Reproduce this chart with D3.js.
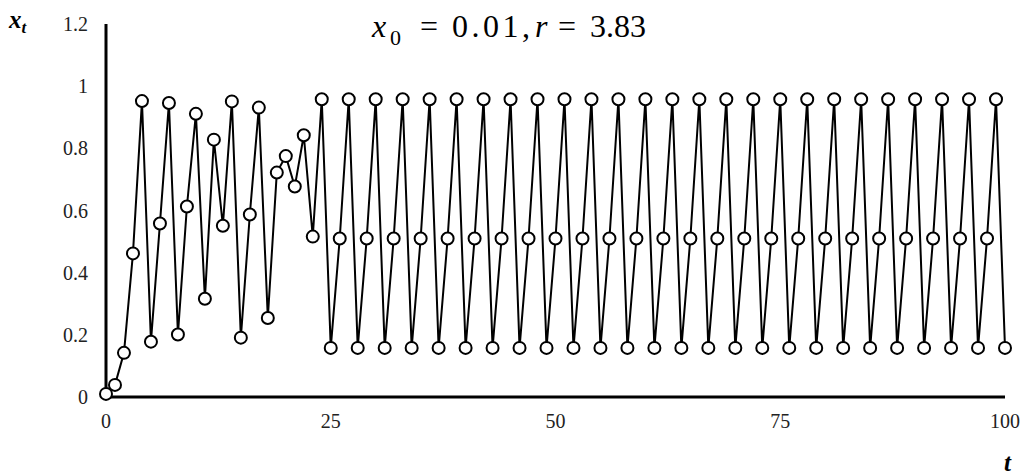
<!DOCTYPE html>
<html><head><meta charset="utf-8"><script src="https://cdn.jsdelivr.net/npm/d3@7"></script></head>
<body style="margin:0">
<svg id="chart" width="1024" height="476"></svg>
<script>
// ---- data ----
const xtValues = [
  0.010, 0.039, 0.142, 0.462, 0.952, 0.178, 0.558, 0.946, 0.201, 0.613,
  0.911, 0.316, 0.828, 0.551, 0.951, 0.191, 0.587, 0.931, 0.254, 0.722,
  0.775, 0.677, 0.842, 0.516, 0.958,
  0.158, 0.510, 0.958, 0.158, 0.510, 0.958, 0.158, 0.510, 0.958, 0.158, 0.510, 0.958, 0.158, 0.510, 0.958,
  0.158, 0.510, 0.958, 0.158, 0.510, 0.958, 0.158, 0.510, 0.958, 0.158, 0.510, 0.958, 0.158, 0.510, 0.958,
  0.158, 0.510, 0.958, 0.158, 0.510, 0.958, 0.158, 0.510, 0.958, 0.158, 0.510, 0.958, 0.158, 0.510, 0.958,
  0.158, 0.510, 0.958, 0.158, 0.510, 0.958, 0.158, 0.510, 0.958, 0.158, 0.510, 0.958, 0.158, 0.510, 0.958,
  0.158, 0.510, 0.958, 0.158, 0.510, 0.958, 0.158, 0.510, 0.958, 0.158, 0.510, 0.958, 0.158, 0.510, 0.958,
  0.158
];
const xTickValues = [0, 25, 50, 75, 100];
const yTickValues = [0, 0.2, 0.4, 0.6, 0.8, 1, 1.2];
const xDomain = [0, 100];
const yDomain = [0, 1.2];

// ---- layout ----
const s = d3.select("#chart");
const mLeft = 106, mRight = 1005, mTop = 24, mBottom = 397;

const x = d3.scaleLinear().domain(xDomain).range([mLeft, mRight]);
const y = d3.scaleLinear().domain(yDomain).range([mBottom, mTop]);

function label(xp, yp, size, txt, opts) {
  opts = opts || {};
  const t = s.append("text").attr("x", xp).attr("y", yp).attr("font-size", size)
    .attr("font-family", "Liberation Serif")
    .style("font-family", "Liberation Serif");
  if (opts.anchor) t.attr("text-anchor", opts.anchor);
  if (opts.italic) t.attr("font-style", "italic");
  if (opts.bold) t.attr("font-weight", "bold");
  if (opts.fill) t.attr("fill", opts.fill);
  if (opts.len) t.attr("textLength", opts.len).attr("lengthAdjust", "spacing");
  t.text(txt);
  return t;
}

// axes lines
s.append("line").attr("x1", mLeft).attr("x2", mLeft).attr("y1", y(1.2)).attr("y2", mBottom + 1.5)
  .attr("stroke", "#000").attr("stroke-width", 3);
s.append("line").attr("x1", mLeft).attr("x2", mRight).attr("y1", mBottom).attr("y2", mBottom)
  .attr("stroke", "#000").attr("stroke-width", 3);

// y tick labels
yTickValues.forEach(v => label(88, y(v) + 7, 20, d3.format("~g")(v), {anchor: "end", fill: "#222"}));
// x tick labels
xTickValues.forEach(v => label(x(v), 428, 20, String(v), {anchor: "middle", fill: "#222"}));

// line
const line = d3.line().x((d, i) => x(i)).y(d => y(d));
s.append("path").datum(xtValues).attr("d", line)
  .attr("fill", "none").attr("stroke", "#000").attr("stroke-width", 2).attr("stroke-linejoin", "miter");

// markers
s.append("g").selectAll("circle").data(xtValues).join("circle")
  .attr("cx", (d, i) => x(i)).attr("cy", d => y(d)).attr("r", 6)
  .attr("fill", "#fff").attr("stroke", "#000").attr("stroke-width", 2);

// axis titles
const yt = label(9, 28, 25, "", {italic: true, bold: true});
yt.append("tspan").text("x");
yt.append("tspan").attr("dy", 5).attr("font-size", 17).text("t");
label(1004, 471, 25, "t", {italic: true, bold: true});

// title: x0 = 0.01, r = 3.83
label(372, 37, 32, "x", {italic: true});
label(390, 45, 22, "0");
label(420, 37, 32, "=");
label(452, 37, 32, "0.01,", {len: 78});
label(535, 37, 32, "r", {italic: true});
label(558, 37, 32, "=");
label(590, 37, 32, "3.83");
</script></body></html>
